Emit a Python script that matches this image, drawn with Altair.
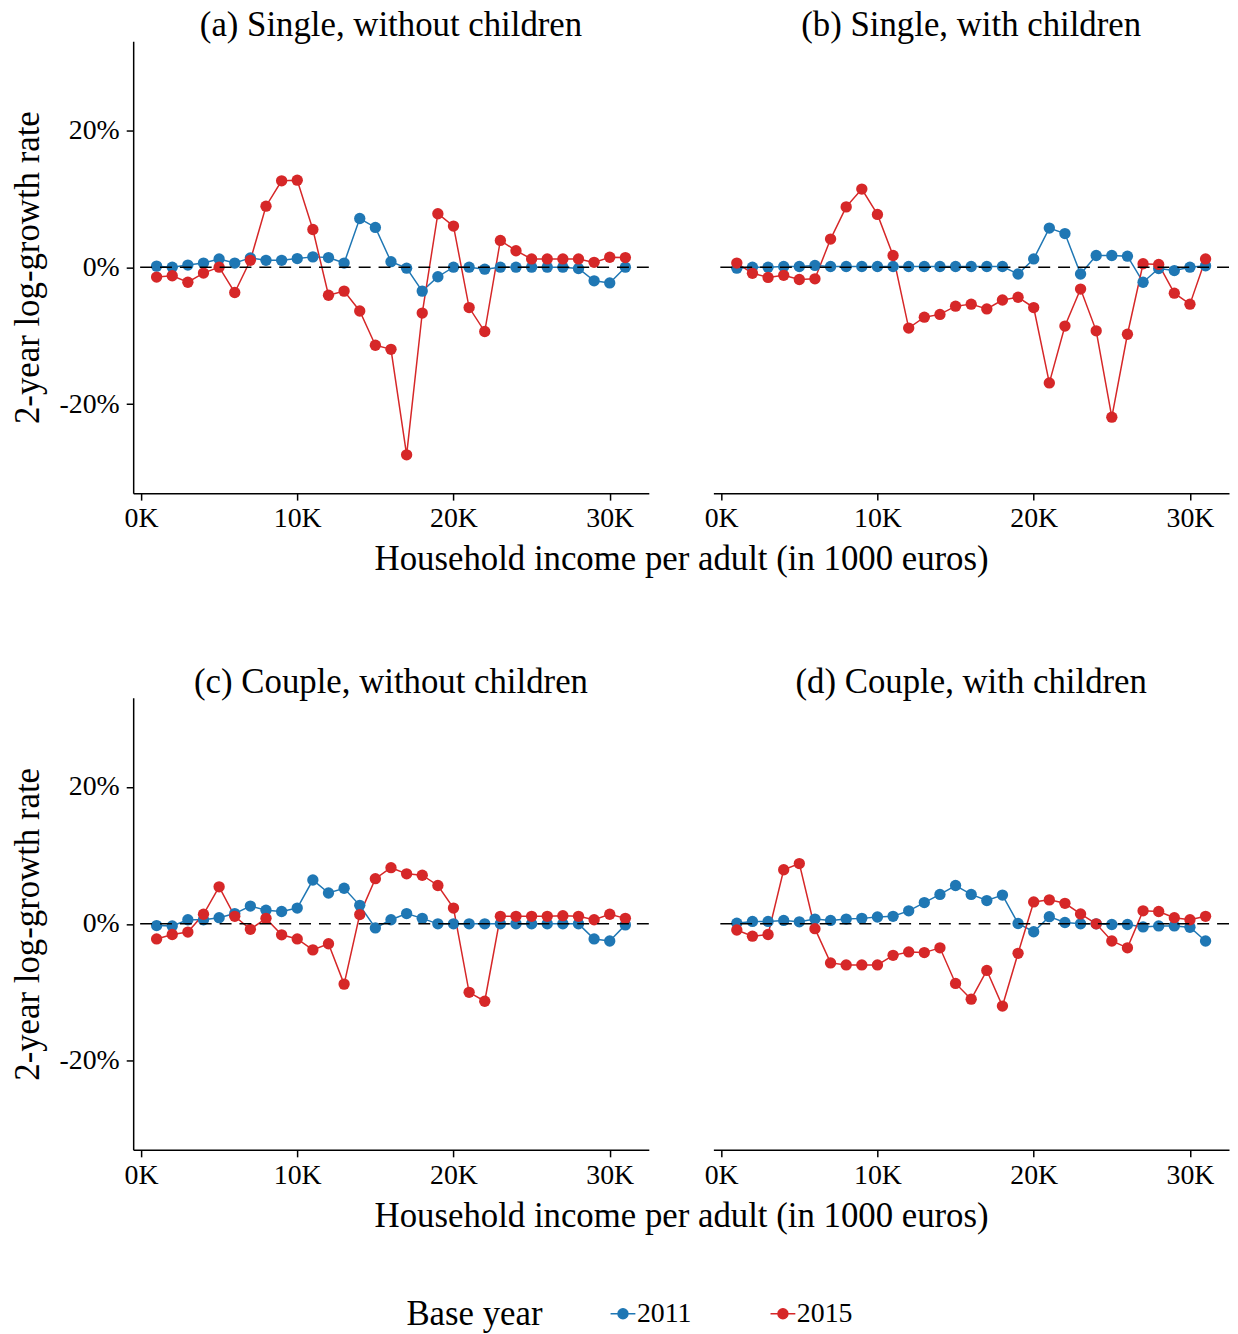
import altair as alt
import pandas as pd

income_k = list(range(1, 32))
years = ["2011", "2015"]

panel_ids = ["a", "b", "c", "d"]
panel_titles = ["(a) Single, without children", "(b) Single, with children",
                "(c) Couple, without children", "(d) Couple, with children"]

a_2011 = [0.15, 0, 0.3, 0.6, 1.2, 0.6, 1.35, 1.0, 1.0, 1.25, 1.5, 1.4, 0.6, 7.1, 5.8, 0.8,
          -0.15, -3.5, -1.4, 0, 0, -0.3, 0, 0, 0, 0, 0, -0.2, -2.0, -2.3, 0]
a_2015 = [-1.45, -1.26, -2.2, -0.87, 0, -3.7, 1.0, 8.9, 12.6, 12.7, 5.5, -4.1, -3.5, -6.4,
          -11.4, -12.0, -27.4, -6.7, 7.8, 6.0, -5.9, -9.4, 3.9, 2.4, 1.2, 1.2, 1.2, 1.2,
          0.7, 1.45, 1.4]
b_2011 = [-0.15, 0, 0, 0.1, 0.1, 0.25, 0.1, 0.1, 0.1, 0.1, 0.1, 0.1, 0.1, 0.1, 0.1, 0.1,
          0.1, 0.1, -1.0, 1.2, 5.7, 4.9, -1.0, 1.7, 1.7, 1.6, -2.2, -0.2, -0.5, 0, 0.2]
b_2015 = [0.6, -0.9, -1.5, -1.2, -1.8, -1.7, 4.1, 8.8, 11.4, 7.7, 1.7, -8.9, -7.3, -6.9,
          -5.7, -5.4, -6.1, -4.8, -4.4, -5.9, -16.9, -8.6, -3.2, -9.3, -21.9, -9.8, 0.5,
          0.4, -3.8, -5.4, 1.2]
c_2011 = [-0.25, -0.3, 0.6, 0.6, 0.9, 1.5, 2.6, 2.0, 1.8, 2.3, 6.4, 4.5, 5.2, 2.7, -0.6,
          0.6, 1.5, 0.8, 0, 0, 0, 0, 0, 0, 0, 0, 0, 0, -2.2, -2.5, -0.15]
c_2015 = [-2.2, -1.55, -1.2, 1.4, 5.4, 1.1, -0.8, 0.8, -1.6, -2.2, -3.8, -2.9, -8.8, 1.35,
          6.6, 8.2, 7.3, 7.1, 5.6, 2.3, -10.0, -11.3, 1.1, 1.1, 1.1, 1.1, 1.2, 1.1, 0.6,
          1.4, 0.8]
d_2011 = [0.1, 0.35, 0.35, 0.5, 0.3, 0.7, 0.5, 0.7, 0.8, 1.0, 1.1, 1.9, 3.1, 4.3, 5.6, 4.3,
          3.4, 4.2, 0.05, -1.15, 1.05, 0.2, 0, 0, -0.1, -0.1, -0.45, -0.3, -0.3, -0.5, -2.5]
d_2015 = [-0.9, -1.8, -1.55, 7.9, 8.8, -0.7, -5.7, -6.0, -6.0, -6.0, -4.6, -4.1, -4.2, -3.5,
          -8.7, -11.0, -6.8, -12.0, -4.3, 3.2, 3.5, 3.0, 1.45, 0, -2.5, -3.5, 1.9, 1.8, 0.9,
          0.6, 1.1]

series = {
    ("a", "2011"): a_2011, ("a", "2015"): a_2015,
    ("b", "2011"): b_2011, ("b", "2015"): b_2015,
    ("c", "2011"): c_2011, ("c", "2015"): c_2015,
    ("d", "2011"): d_2011, ("d", "2015"): d_2015,
}

rows = []
for (p, y), vals in series.items():
    for x, v in zip(income_k, vals):
        rows.append({"panel": p, "year": y, "income": x, "growth": v})
df = pd.DataFrame(rows)
zero_df = pd.DataFrame({"z": [0]})

FONT = "Liberation Serif"
COLORS = ["#1f77b4", "#d62728"]
W, H = 519, 455

color_scale = alt.Scale(domain=years, range=COLORS)
x_scale = alt.Scale(domain=[-0.5, 32.5], nice=False)
y_scale = alt.Scale(domain=[-33, 33], nice=False, zero=False)

LEGEND_PATH = "M-1,0H1M-0.4,0A0.4,0.4,0,1,1,0.4,0A0.4,0.4,0,1,1,-0.4,0Z"


def legend():
    return alt.Legend(title="Base year", orient="none",
                      legendX=275, legendY=1267,
                      direction="horizontal", titleOrient="left",
                      symbolType=LEGEND_PATH, symbolSize=625,
                      symbolStrokeWidth=1.5, titlePadding=66,
                      labelOffset=0, columnPadding=76)


def make_panel(pid, title, left, show_xtitle):
    sub = df[df.panel == pid]
    x_axis = alt.Axis(values=[0, 10, 20, 30], labelExpr="datum.value + 'K'",
                      title="Household income per adult (in 1000 euros)" if show_xtitle else None,
                      titleX=551.5, titleY=77, titleAnchor="middle", titleAlign="center",
                      titleBaseline="alphabetic")
    if left:
        y_axis = alt.Axis(values=[-20, 0, 20], labelExpr="datum.value + '%'",
                          title="2-year log-growth rate")
    else:
        y_axis = None
    base = alt.Chart(sub)
    line = base.mark_line(strokeWidth=1.5).encode(
        x=alt.X("income:Q", scale=x_scale, axis=x_axis),
        y=alt.Y("growth:Q", scale=y_scale, axis=y_axis),
        color=alt.Color("year:N", scale=color_scale, legend=legend()),
        detail="year:N",
    )
    pts = base.mark_point(filled=True, size=130, opacity=1, shape="circle").encode(
        x=alt.X("income:Q", scale=x_scale),
        y=alt.Y("growth:Q", scale=y_scale),
        color=alt.Color("year:N", scale=color_scale, legend=legend()),
    )
    rule = alt.Chart(zero_df).mark_rule(color="black", strokeDash=[12, 8],
                                        strokeWidth=1.5).encode(y=alt.Y("z:Q", scale=y_scale))
    return alt.layer(line, pts, rule).properties(
        width=W, height=H,
        title=alt.TitleParams(title, fontSize=35, font=FONT, fontWeight="normal",
                              anchor="middle", offset=-2, color="black"))


chart = alt.concat(
    make_panel("a", panel_titles[0], True, True),
    make_panel("b", panel_titles[1], False, False),
    make_panel("c", panel_titles[2], True, True),
    make_panel("d", panel_titles[3], False, False),
    columns=2, spacing={"row": 206, "column": 65}, bounds="flush",
).resolve_scale(color="shared").properties(
    padding={"left": 2, "top": -4, "right": 0, "bottom": 0}
).configure_view(stroke=None).configure_axis(
    grid=False, domainColor="black", domainWidth=1.5, tickColor="black", tickWidth=1.5,
    tickSize=7, labelFont=FONT, labelFontSize=28, labelColor="black", titleFont=FONT,
    titleFontSize=35, titleFontWeight="normal", titleColor="black", labelPadding=5,
).configure_axisY(labelPadding=7, titlePadding=14).configure_legend(
    titleFont=FONT, titleFontSize=35, titleFontWeight="normal", titleColor="black",
    labelFont=FONT, labelFontSize=28, labelColor="black")

chart.save("out.html", embed_options={"renderer": "svg", "actions": False})
